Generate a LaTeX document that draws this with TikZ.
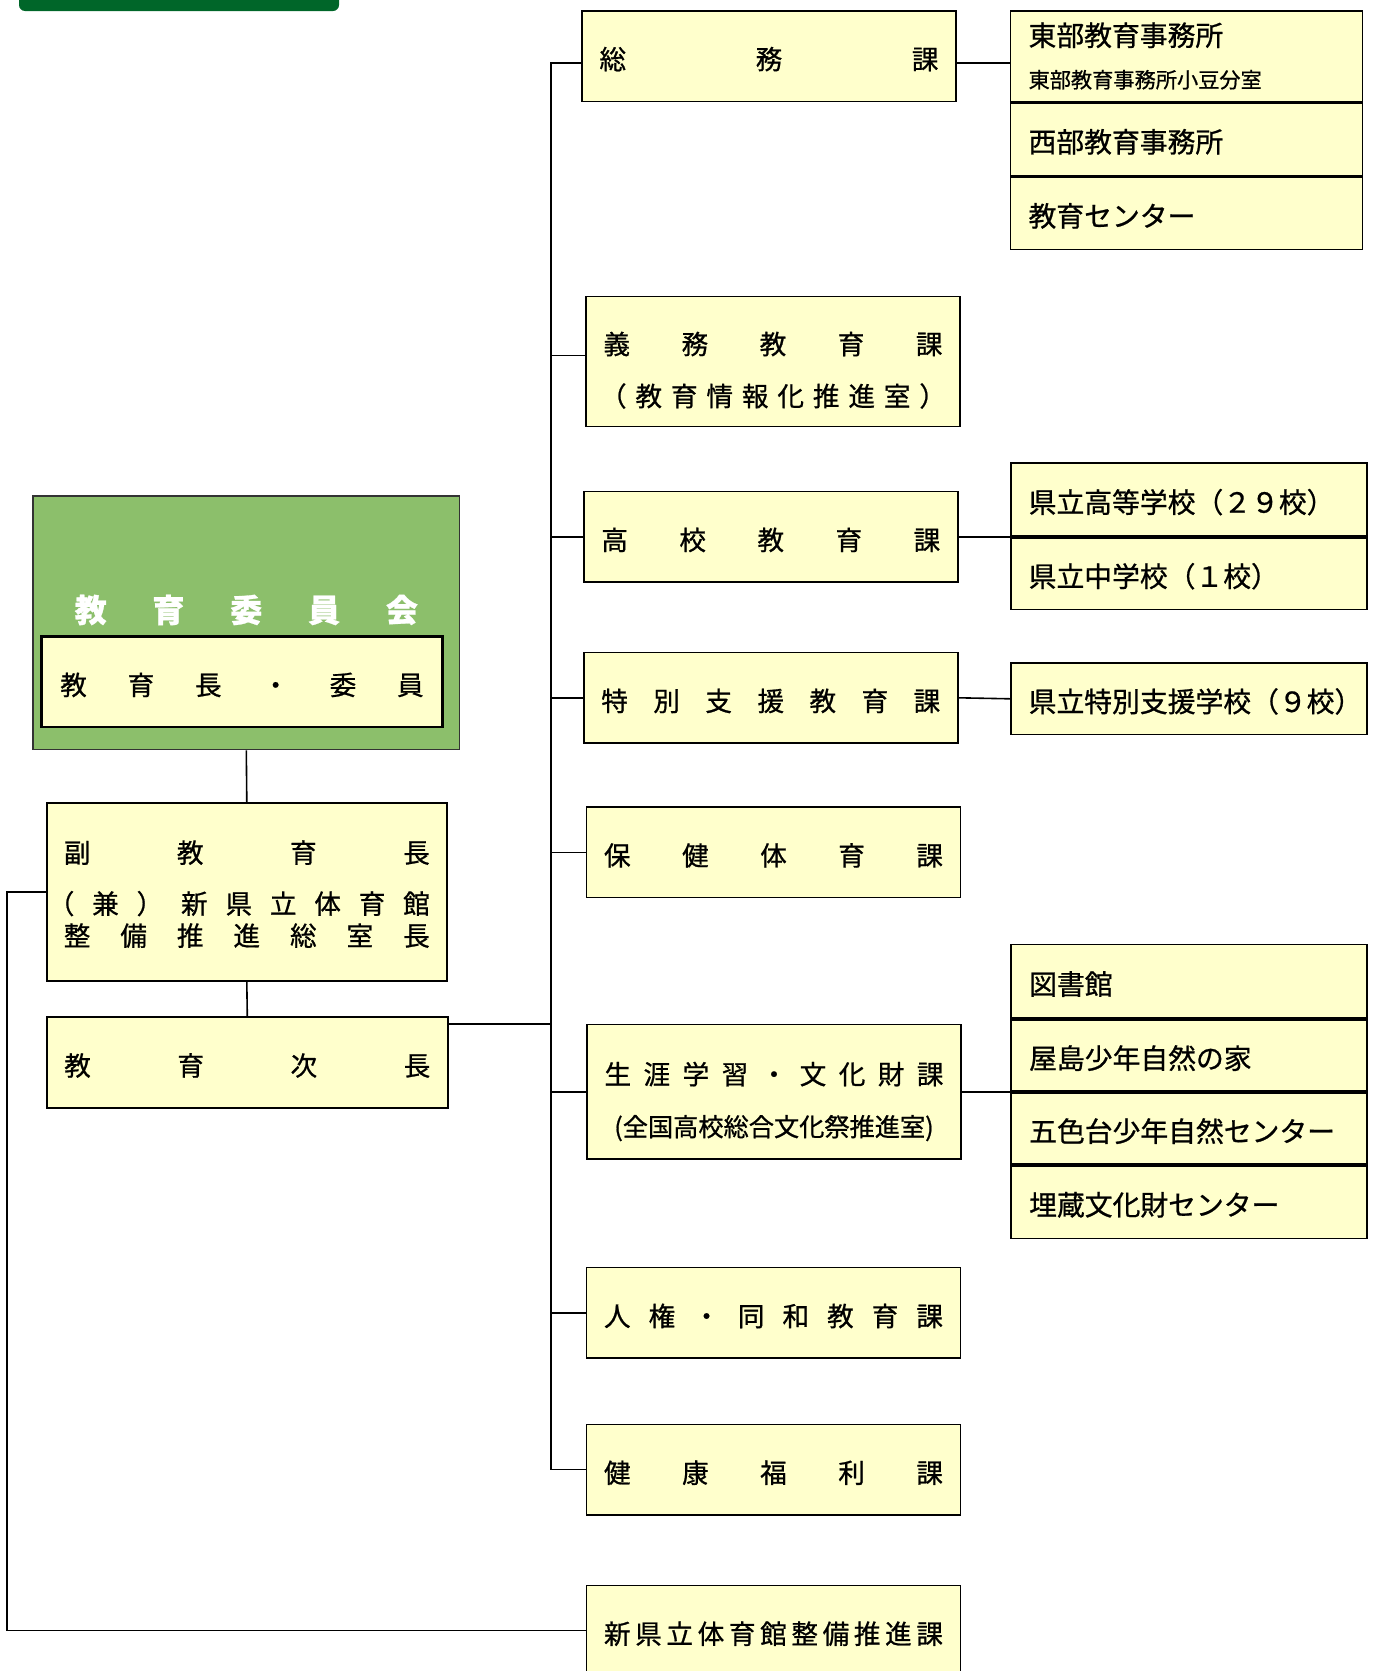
\documentclass[tikz,border=0pt]{standalone}
\usepackage{fontspec}
\setmainfont{Noto Sans CJK JP}[FakeBold=0.8]
\usetikzlibrary{positioning,calc}

\definecolor{boxyellow}{HTML}{FFFFCC}
\definecolor{boardgreen}{HTML}{8CBF6B}
\definecolor{bargreen}{HTML}{006629}

\newcommand\jfont{\fontsize{13.3pt}{16pt}\selectfont}
\newcommand\ufont{\fontsize{13.9pt}{16pt}\selectfont}
\newcommand\smallj{\fontsize{10.6pt}{12pt}\selectfont}
% spread the characters of #2 over a width of #1
\newcommand\spreadloop[1]{\ifx#1\relax\else#1\hfill\expandafter\spreadloop\fi}
\newcommand\spreadtxt[2]{\makebox[#1][s]{\spreadloop#2\relax\unskip}}

\tikzset{
  box/.style={draw, fill=boxyellow, line width=0.8pt, inner sep=0pt, font=\jfont},
  one/.style={text height=13.2pt, text depth=0pt},
  ka/.style={box, minimum width=187pt, minimum height=45.3pt},
  unit/.style={box, one, text width=160pt, inner xsep=9pt, align=left, font=\ufont},
  link/.style={line width=0.8pt},
}

\begin{document}
\begin{tikzpicture}[x=0.5pt,y=-0.5pt]
  \useasboundingbox (0,0) rectangle (1372,1671);
  % top bar
  \fill[bargreen, rounded corners=3pt] (19,-20) rectangle (339,11);

  % board
  \node[draw=black!80, fill=boardgreen, line width=0.8pt, minimum width=213.2pt, minimum height=126.9pt] (board) at (246.3,622.6) {};
  \node[font=\fontsize{16pt}{18pt}\selectfont\bfseries, text=white] (boardname) at (246.3,610) {\spreadtxt{171.6pt}{教育委員会}};
  \node[box, one, line width=1.2pt, minimum width=200.4pt, minimum height=45.3pt] (kyoikucho) at (242,681.8) {\spreadtxt{181.7pt}{教育長・委員}};

  % left column
  \node[box, minimum width=199.9pt, minimum height=89pt, align=center] (fuku) at (246.8,891.8)
    {\rule{0pt}{13.5pt}\spreadtxt{183pt}{副教育長}\\[9.5pt]\makebox[183pt][r]{\spreadtxt{191pt}{（兼）新県立体育館}}\\\spreadtxt{183pt}{整備推進総室長}};
  \node[box, one, minimum width=200.5pt, minimum height=45.3pt] (jicho) at (247.3,1062.4) {\spreadtxt{183pt}{教育次長}};

  % right column
  \node[ka, one] (somu) at (769,56) {\spreadtxt{169.5pt}{総務課}};
  \node[ka, minimum height=65pt, align=center] (gimu) at (773,361.4)
    {\rule{0pt}{20pt}\spreadtxt{169.5pt}{義務教育課}\\[10pt]\spreadtxt{173pt}{（教育情報化推進室）}};
  \node[ka, one] (koko) at (770.8,536.8) {\spreadtxt{169.5pt}{高校教育課}};
  \node[ka, one] (tokubetsu) at (770.8,697.8) {\spreadtxt{169.5pt}{特別支援教育課}};
  \node[ka, one] (hoken) at (773.5,852.3) {\spreadtxt{169.5pt}{保健体育課}};
  \node[ka, minimum height=67.2pt, align=center] (shogai) at (774,1091.7)
    {\rule{0pt}{21pt}\spreadtxt{169.5pt}{生涯学習・文化財課}\\[10pt]{\fontsize{12.6pt}{14pt}\selectfont (全国高校総合文化祭推進室)}};
  \node[ka, one] (jinken) at (773.5,1312.9) {\spreadtxt{169.5pt}{人権・同和教育課}};
  \node[ka, one] (kenko) at (773.5,1469.6) {\spreadtxt{169.5pt}{健康福利課}};
  \node[ka, one] (shin) at (773.5,1630.6) {\spreadtxt{169.5pt}{新県立体育館整備推進課}};

  % offices and schools
  \node[box, text width=158pt, inner xsep=9pt, align=left, font=\ufont, minimum height=45.3pt] (tobu) at (1186.6,56)
    {東部教育事務所\\[5pt]{\smallj 東部教育事務所小豆分室}};
  \node[unit, text width=158pt, minimum height=36.25pt, below=0pt of tobu] (seibu) {西部教育事務所};
  \node[unit, text width=158pt, minimum height=36.25pt, below=0pt of seibu] (kcenter) {教育センター};
  \node[unit, minimum height=36.75pt] (koto) at (1188.7,499.5) {県立高等学校（２９校）};
  \node[unit, minimum height=35.75pt, below=0pt of koto] (chu) {県立中学校（１校）};
  \node[unit, minimum height=35.7pt] (tokushi) at (1188.7,698.8) {県立特別支援学校（９校）};
  \node[unit, minimum height=36.75pt] (tosho) at (1189.2,981.4) {図書館};
  \node[unit, minimum height=35.75pt, below=0pt of tosho] (yashima) {屋島少年自然の家};
  \node[unit, minimum height=35.7pt, below=0pt of yashima] (goshiki) {五色台少年自然センター};
  \node[unit, minimum height=36.25pt, below=0pt of goshiki] (maizo) {埋蔵文化財センター};

  % trunk
  \draw[link] ($(somu.west)+(0,7)$) -- ++(-30,0) coordinate (ttop) |- (kenko.west);
  \draw[link] ($(gimu.west)+(0,-6)$) coordinate (gw) -- (gw -| ttop);
  \foreach \d in {koko,tokubetsu,hoken,shogai,jinken}
    \draw[link] (ttop |- \d.west) -- (\d.west);
  \draw[link] ($(jicho.north east)+(0,7.5)$) coordinate (jj) -- (jj -| ttop);

  % side links
  \draw[link] ($(somu.east)+(0,7)$) coordinate (se) -- (se -| tobu.west);
  \draw[link] (koko.east) -- (koko.east -| koto.west);
  \draw[link] (tokubetsu.east) -- (tokushi.west);
  \draw[link] (shogai.east) -- (shogai.east -| yashima.west);

  % chain on the left
  \draw[link] (board.south) -- (fuku.north);
  \draw[link] (fuku.south) -- (jicho.north);
  \draw[link] (fuku.west) -- ++(-39.4,0) |- (shin.west);
\end{tikzpicture}
\end{document}
